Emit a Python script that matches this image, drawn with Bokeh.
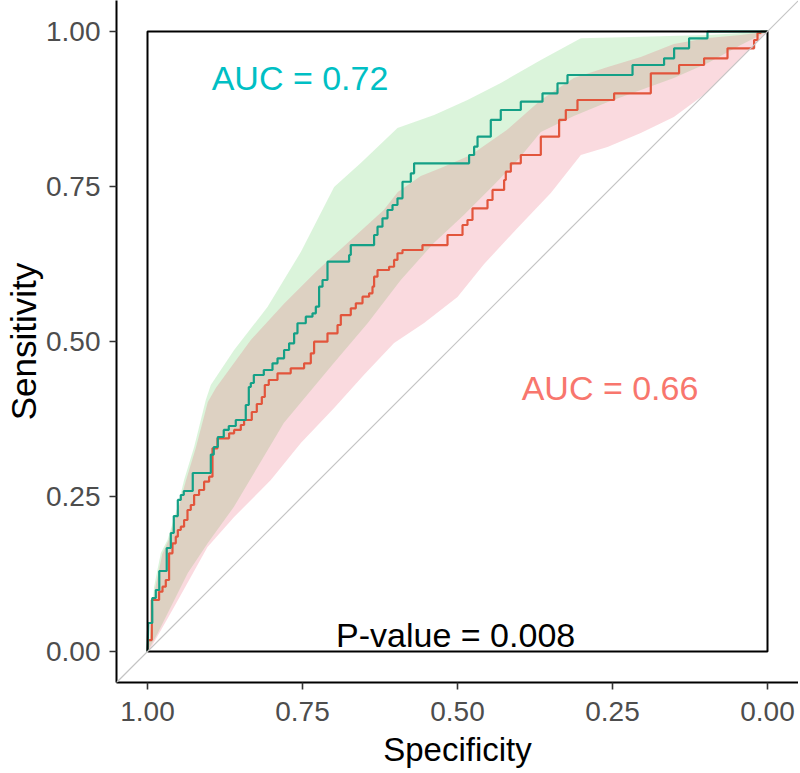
from bokeh.plotting import figure
from bokeh.models import Range1d, FixedTicker, PrintfTickFormatter, Slope
from bokeh.core.properties import value
from bokeh.embed import file_html
from bokeh.resources import INLINE

# ---------------- data ----------------
ticks = [0.0, 0.25, 0.5, 0.75, 1.0]

# ROC curve, group 1 (teal), AUC = 0.72
teal_spec = [1.0, 0.9987, 0.9923, 0.9923, 0.9866, 0.9866, 0.981, 0.981, 0.969, 0.969,
             0.9624, 0.9624, 0.9576, 0.9576, 0.9511, 0.9511, 0.9463, 0.9463, 0.9415, 0.9415,
             0.927, 0.927, 0.8979, 0.8979, 0.8931, 0.8931, 0.8866, 0.8866, 0.877, 0.877,
             0.8689, 0.8689, 0.8576, 0.8576, 0.8415, 0.8415, 0.8366, 0.8366, 0.8334, 0.8334,
             0.8285, 0.8285, 0.8124, 0.8124, 0.7984, 0.7984, 0.7903, 0.7903, 0.7797, 0.7797,
             0.7716, 0.7716, 0.7635, 0.7635, 0.7581, 0.7581, 0.7447, 0.7447, 0.7339, 0.7339,
             0.7285, 0.7285, 0.7232, 0.7232, 0.7177, 0.7177, 0.7097, 0.7097, 0.6748, 0.6748,
             0.6721, 0.6721, 0.6345, 0.6345, 0.629, 0.629, 0.621, 0.621, 0.6129, 0.6129,
             0.6048, 0.6048, 0.5968, 0.5968, 0.5887, 0.5887, 0.5753, 0.5753, 0.57, 0.57,
             0.4813, 0.4813, 0.4732, 0.4732, 0.4677, 0.4677, 0.4463, 0.4463, 0.4302, 0.4302,
             0.3979, 0.3979, 0.3629, 0.3629, 0.3387, 0.3387, 0.3226, 0.3226, 0.2177, 0.2177,
             0.1668, 0.1668, 0.1506, 0.1506, 0.1265, 0.1265, 0.0968, 0.0968, 0.0]
teal_sens = [0.0, 0.046, 0.046, 0.0863, 0.0863, 0.0992, 0.0992, 0.1298, 0.1298, 0.1669,
             0.1669, 0.1911, 0.1911, 0.2185, 0.2185, 0.2444, 0.2444, 0.2524, 0.2524, 0.2589,
             0.2589, 0.2879, 0.2879, 0.3177, 0.3177, 0.3298, 0.3298, 0.346, 0.346, 0.3573,
             0.3573, 0.3637, 0.3637, 0.3734, 0.3734, 0.3976, 0.3976, 0.4266, 0.4266, 0.4331,
             0.4331, 0.446, 0.446, 0.454, 0.454, 0.4648, 0.4648, 0.4729, 0.4729, 0.4863,
             0.4863, 0.4971, 0.4971, 0.5132, 0.5132, 0.5294, 0.5294, 0.54, 0.54, 0.5455,
             0.5455, 0.5561, 0.5561, 0.5884, 0.5884, 0.5992, 0.5992, 0.6287, 0.6287, 0.6395,
             0.6395, 0.6556, 0.6556, 0.6718, 0.6718, 0.6852, 0.6852, 0.6987, 0.6987, 0.7121,
             0.7121, 0.7202, 0.7202, 0.731, 0.731, 0.7577, 0.7577, 0.7713, 0.7713, 0.7874,
             0.7874, 0.8008, 0.8008, 0.8142, 0.8142, 0.8303, 0.8303, 0.8573, 0.8573, 0.8734,
             0.8734, 0.8868, 0.8868, 0.9003, 0.9003, 0.9165, 0.9165, 0.9298, 0.9298, 0.946,
             0.946, 0.9568, 0.9568, 0.9729, 0.9729, 0.989, 0.989, 1.0, 1.0]

# ROC curve, group 2 (red), AUC = 0.66
red_spec = [1.0, 0.9987, 0.9931, 0.9931, 0.9813, 0.9813, 0.9758, 0.9758, 0.9705, 0.9705,
            0.9652, 0.9652, 0.9597, 0.9597, 0.9544, 0.9544, 0.9511, 0.9511, 0.9463, 0.9463,
            0.941, 0.941, 0.9355, 0.9355, 0.9302, 0.9302, 0.9248, 0.9248, 0.9168, 0.9168,
            0.9087, 0.9087, 0.9006, 0.9006, 0.8952, 0.8952, 0.8871, 0.8871, 0.8684, 0.8684,
            0.8603, 0.8603, 0.8495, 0.8495, 0.8442, 0.8442, 0.8318, 0.8318, 0.8237, 0.8237,
            0.8156, 0.8156, 0.8108, 0.8108, 0.8044, 0.8044, 0.7903, 0.7903, 0.769, 0.769,
            0.7474, 0.7474, 0.7366, 0.7366, 0.7313, 0.7313, 0.7097, 0.7097, 0.6935, 0.6935,
            0.6882, 0.6882, 0.6721, 0.6721, 0.664, 0.664, 0.6532, 0.6532, 0.6426, 0.6426,
            0.6371, 0.6371, 0.6345, 0.6345, 0.629, 0.629, 0.6103, 0.6103, 0.6023, 0.6023,
            0.5968, 0.5968, 0.5887, 0.5887, 0.5565, 0.5565, 0.5161, 0.5161, 0.4919, 0.4919,
            0.4839, 0.4839, 0.4758, 0.4758, 0.4516, 0.4516, 0.4435, 0.4435, 0.4248, 0.4248,
            0.4221, 0.4221, 0.414, 0.414, 0.3979, 0.3979, 0.3656, 0.3656, 0.3361, 0.3361,
            0.3253, 0.3253, 0.3065, 0.3065, 0.2474, 0.2474, 0.1882, 0.1882, 0.1426, 0.1426,
            0.1023, 0.1023, 0.0645, 0.0645, 0.0216, 0.0216, 0.0161, 0.0161, 0.0108, 0.0108,
            0.0]
red_sens = [0.0, 0.0185, 0.0185, 0.0831, 0.0831, 0.0965, 0.0965, 0.1045, 0.1045, 0.1153,
            0.1153, 0.1584, 0.1584, 0.1745, 0.1745, 0.1852, 0.1852, 0.196, 0.196, 0.2013,
            0.2013, 0.2121, 0.2121, 0.2282, 0.2282, 0.2363, 0.2363, 0.2524, 0.2524, 0.2605,
            0.2605, 0.2739, 0.2739, 0.2819, 0.2819, 0.3277, 0.3277, 0.3439, 0.3439, 0.3519,
            0.3519, 0.3573, 0.3573, 0.3653, 0.3653, 0.3734, 0.3734, 0.3863, 0.3863, 0.3992,
            0.3992, 0.4105, 0.4105, 0.4298, 0.4298, 0.4379, 0.4379, 0.4487, 0.4487, 0.4568,
            0.4568, 0.4648, 0.4648, 0.481, 0.481, 0.4997, 0.4997, 0.5132, 0.5132, 0.5266,
            0.5266, 0.5427, 0.5427, 0.5535, 0.5535, 0.5616, 0.5616, 0.5723, 0.5723, 0.5777,
            0.5777, 0.5884, 0.5884, 0.6045, 0.6045, 0.6153, 0.6153, 0.6206, 0.6206, 0.6315,
            0.6315, 0.6423, 0.6423, 0.6476, 0.6476, 0.6556, 0.6556, 0.6718, 0.6718, 0.6879,
            0.6879, 0.696, 0.696, 0.7148, 0.7148, 0.7282, 0.7282, 0.7444, 0.7444, 0.7605,
            0.7605, 0.7739, 0.7739, 0.7874, 0.7874, 0.8008, 0.8008, 0.8303, 0.8303, 0.8573,
            0.8573, 0.8734, 0.8734, 0.8895, 0.8895, 0.9003, 0.9003, 0.9326, 0.9326, 0.946,
            0.946, 0.9568, 0.9568, 0.9729, 0.9729, 0.9863, 0.9863, 0.9976, 0.9976, 1.0,
            1.0]

# confidence bands
teal_ci_hi_spec = [1.0, 0.9974, 0.9894, 0.9785, 0.9677, 0.9516, 0.941, 0.9248, 0.906, 0.8979,
                   0.8603, 0.8065, 0.7527, 0.699, 0.656, 0.5968, 0.5377, 0.4839, 0.4302, 0.3656,
                   0.3011, 0.2044, 0.0968, 0.0]
teal_ci_hi_sens = [0.0, 0.0137, 0.104, 0.1589, 0.1798, 0.2331, 0.2766, 0.3298, 0.4056, 0.4298,
                   0.4863, 0.5556, 0.6444, 0.7492, 0.7879, 0.8444, 0.8653, 0.8895, 0.9169, 0.954,
                   0.989, 0.9916, 0.9944, 1.0]
teal_ci_lo_spec = [1.0, 0.9834, 0.935, 0.9027, 0.8608, 0.8205, 0.7802, 0.6995, 0.6447, 0.5915,
                   0.5382, 0.4898, 0.4415, 0.4027, 0.3656, 0.3124, 0.2576, 0.2044, 0.1511, 0.0963,
                   0.0431, 0.0]
teal_ci_lo_sens = [0.0, 0.0298, 0.1266, 0.175, 0.2331, 0.3008, 0.3685, 0.4653, 0.5298, 0.5992,
                   0.6589, 0.704, 0.7524, 0.7927, 0.8379, 0.8637, 0.8863, 0.9056, 0.925, 0.9492,
                   0.9782, 1.0]
red_ci_hi_spec = [1.0, 0.9955, 0.9874, 0.9761, 0.9656, 0.9495, 0.9382, 0.9221, 0.9027, 0.8898,
                  0.8334, 0.7802, 0.7253, 0.6721, 0.6189, 0.5963, 0.5592, 0.5269, 0.4785, 0.4205,
                  0.3656, 0.3124, 0.2576, 0.2044, 0.1511, 0.0963, 0.0431, 0.0]
red_ci_hi_sens = [0.0, 0.0185, 0.1024, 0.1573, 0.1798, 0.2331, 0.275, 0.3282, 0.4024, 0.425,
                  0.5024, 0.5605, 0.6153, 0.6637, 0.7121, 0.7411, 0.7669, 0.7798, 0.8008, 0.8411,
                  0.8895, 0.925, 0.9427, 0.9589, 0.9798, 0.9895, 0.9944, 1.0]
red_ci_lo_spec = [1.0, 0.9947, 0.9571, 0.9032, 0.8603, 0.8011, 0.7527, 0.699, 0.6511, 0.6023,
                  0.5539, 0.5, 0.4571, 0.4032, 0.3495, 0.3011, 0.2581, 0.2044, 0.1511, 0.0963,
                  0.0431, 0.0]
red_ci_lo_sens = [0.0, 0.0056, 0.0718, 0.1685, 0.2169, 0.2766, 0.3363, 0.3927, 0.446, 0.4976,
                  0.5298, 0.5718, 0.625, 0.6831, 0.7395, 0.8008, 0.8137, 0.8363, 0.8621, 0.9024,
                  0.9556, 1.0]

auc_labels = ["AUC = 0.72", "AUC = 0.66"]
auc_x = [0.754, 0.254]
auc_y = [0.925, 0.425]
p_label = "P-value = 0.008"
p_x, p_y = 0.503, 0.0266

TEAL_LINE = "#14A086"
RED_LINE = "#E2553C"
FONT = "Liberation Sans"

# ---------------- figure ----------------
p = figure(width=798, height=771, output_backend="svg", toolbar_location=None,
           x_range=Range1d(1.05, -0.05), y_range=Range1d(-0.05, 1.05),
           min_border_left=116, min_border_right=0, min_border_top=0, min_border_bottom=89)
p.background_fill_color = "white"
p.border_fill_color = "white"
p.outline_line_color = None
p.xgrid.grid_line_color = None
p.ygrid.grid_line_color = None

# bands
p.patch(teal_ci_hi_spec + teal_ci_lo_spec[::-1], teal_ci_hi_sens + teal_ci_lo_sens[::-1],
        fill_color="#7FD67F", fill_alpha=0.28, line_color=None)
p.patch(red_ci_hi_spec + red_ci_lo_spec[::-1], red_ci_hi_sens + red_ci_lo_sens[::-1],
        fill_color="#E6465F", fill_alpha=0.2, line_color=None)

# diagonal reference
p.add_layout(Slope(gradient=-1, y_intercept=1, line_color="#C4C4C4", line_width=1.2))

# curves
p.line(red_spec, red_sens, line_color=RED_LINE, line_width=2.2)
p.line(teal_spec, teal_sens, line_color=TEAL_LINE, line_width=2.2)

# box
p.line([1.0, 1.0, 0.0, 0.0, 1.0], [0.0, 1.0, 1.0, 0.0, 0.0], line_color="black", line_width=2)

# annotations
p.text(x=[auc_x[0]], y=[auc_y[0]], text=[auc_labels[0]], text_color="#00BFC4",
       text_font=value(FONT), text_font_size="34px", text_align="center",
       text_baseline="alphabetic")
p.text(x=[auc_x[1]], y=[auc_y[1]], text=[auc_labels[1]], text_color="#F8766D",
       text_font=value(FONT), text_font_size="34px", text_align="center",
       text_baseline="alphabetic")
p.text(x=[p_x], y=[p_y], text=[p_label], text_color="black",
       text_font=value(FONT), text_font_size="34px", text_align="center",
       text_baseline="alphabetic")

# axes
for ax in (p.xaxis[0], p.yaxis[0]):
    ax.ticker = FixedTicker(ticks=ticks)
    ax.formatter = PrintfTickFormatter(format="%.2f")
    ax.axis_line_color = "black"
    ax.axis_line_width = 2
    ax.major_tick_out = 7
    ax.major_tick_in = 0
    ax.major_tick_line_color = "#333333"
    ax.major_tick_line_width = 1.6
    ax.minor_tick_out = 0
    ax.minor_tick_in = 0
    ax.major_label_text_font = FONT
    ax.major_label_text_font_size = "28px"
    ax.major_label_text_color = "#4D4D4D"
    ax.axis_label_text_font = FONT
    ax.axis_label_text_font_style = "normal"
    ax.axis_label_text_color = "black"

p.xaxis.axis_label = "Specificity"
p.yaxis.axis_label = "Sensitivity"
p.xaxis.axis_label_text_font_size = "33px"
p.yaxis.axis_label_text_font_size = "35px"
p.xaxis.major_label_standoff = 12
p.yaxis.major_label_standoff = 9
p.xaxis.axis_label_standoff = 7
p.yaxis.axis_label_standoff = 0

open("out.html", "w").write(file_html(p, INLINE))
